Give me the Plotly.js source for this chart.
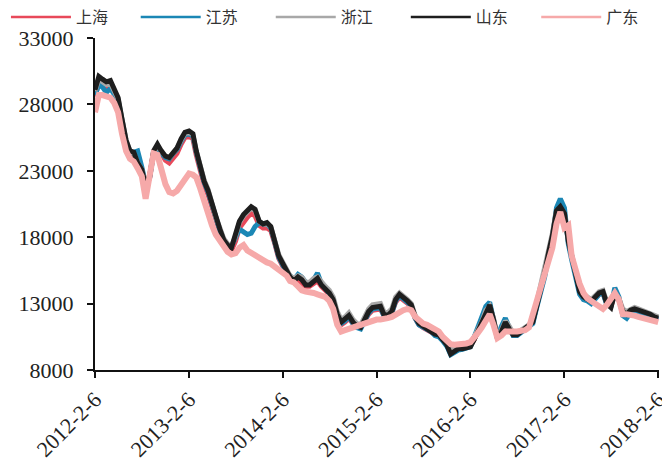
<!DOCTYPE html>
<html>
<head>
<meta charset="utf-8">
<script src="https://cdn.plot.ly/plotly-3.0.1.min.js"></script>
<style>html,body{margin:0;padding:0;background:#fff;}#chart{width:662px;height:468px;}</style>
</head>
<body>
<div id="chart"></div>
<script>
// Half-monthly observation dates (6th and 21st of each month), 2012-02-06 .. 2018-02-06
const dates = [];
for (let y = 2012; y <= 2018; y++) {
  for (let m = 1; m <= 12; m++) {
    if (y === 2012 && m < 2) continue;
    const mm = String(m).padStart(2, '0');
    dates.push(y + '-' + mm + '-06');
    if (y === 2018 && m === 2) break;
    dates.push(y + '-' + mm + '-21');
  }
  if (y === 2018) break;
}

const seriesNames = ['上海', '江苏', '浙江', '山东', '广东'];

const shanghai = [
28600,29600,29500,29300,29400,28900,28200,26600,25000,24200,
24100,23400,22900,21600,22500,24400,24800,24300,23800,23600,
24000,24300,25000,25500,25600,25400,24200,23100,21900,21200,
20200,19200,18400,17600,17200,17000,17700,18700,19200,19500,
19800,19600,18900,18700,18700,18500,17500,16400,15800,15200,
14900,14600,14800,14600,14300,14300,14500,14700,14300,14000,
13700,13200,12100,11400,11600,11900,11500,11200,11200,11700,
12200,12500,12600,12600,12100,12000,12300,13100,13500,13300,
13000,12800,11900,11400,11200,11000,10900,10700,10600,10300,
9900,9300,9500,9700,9700,9800,9850,10300,10900,11400,
12300,12700,11700,10400,10800,11400,11000,10700,10700,10900,
11100,11300,11700,12800,14000,15200,16700,17900,19800,20200,
19600,17600,16500,15300,13900,13500,13300,13200,13400,13700,
13800,13000,12800,13700,13300,12300,12100,12400,12500,12400,
12300,12200,12100,11900,11800];

const jiangsu = [
28700,29500,29300,28900,29200,28800,28300,26800,25200,24300,
24400,24500,23300,22000,22500,24300,24800,24300,24000,23900,
24300,24600,25200,25700,25800,25600,24400,23300,22100,21400,
20400,19300,18500,17800,17400,17300,18000,18600,18400,18200,
18300,18800,19100,19000,19000,18700,17600,16500,15900,15300,
15100,14800,15200,15000,14600,14500,14800,15300,14500,14100,
13800,13400,12100,11500,11700,12000,11500,11200,11100,11700,
12300,12600,12700,12700,12100,12000,12300,13200,13600,13400,
13100,12800,11900,11400,11200,11000,10900,10600,10500,10200,
9800,9150,9350,9500,9550,9650,9750,10500,11200,11900,
12800,13100,11900,10500,11300,11900,11200,10600,10600,10800,
11000,11200,11500,12700,13800,15000,16600,18000,20200,20900,
20200,17500,16300,15100,13700,13300,13200,13000,13400,13700,
13800,12900,12800,14200,13500,12100,11900,12300,12400,12400,
12300,12200,12100,11900,11800];

const zhejiang = [
29000,29900,29700,29500,29600,29000,28400,26900,25300,24500,
24300,23600,23100,22000,22700,24400,24900,24500,24100,24000,
24400,24700,25300,25800,25900,25700,24500,23400,22300,21600,
20500,19500,18700,17900,17500,17300,18100,19100,19600,19900,
20200,20000,19200,19000,19000,18800,17800,16700,16100,15500,
15100,14900,15100,15000,14600,14600,14900,15000,14600,14300,
14000,13500,12400,11800,12000,12300,11800,11500,11400,12000,
12600,12900,13000,13000,12400,12300,12600,13500,13800,13600,
13300,13000,12100,11600,11400,11200,11100,10800,10800,10500,
10100,9400,9600,9800,9800,9900,9950,10500,11000,11600,
12500,12800,11900,10500,11000,11700,11300,10800,10800,11000,
11200,11400,11800,13000,14300,15600,17000,18300,20000,20200,
19700,17800,16800,15600,14100,13700,13500,13300,13600,13900,
14000,13100,12900,13700,13400,12600,12400,12600,12700,12600,
12500,12400,12300,12100,12000];

const shandong = [
29100,30100,29900,29700,29800,29200,28500,26900,25300,24500,
24400,23600,23100,21900,22600,24500,25000,24500,24100,24000,
24400,24700,25400,25900,26000,25800,24500,23400,22200,21500,
20500,19400,18600,17800,17400,17200,18100,19200,19700,20000,
20300,20100,19200,19000,19100,18800,17700,16600,16000,15400,
15000,14700,15000,14800,14400,14400,14700,14900,14400,14100,
13800,13300,12200,11600,11800,12100,11600,11300,11200,11800,
12400,12700,12800,12800,12200,12100,12400,13300,13700,13500,
13200,12900,12000,11500,11300,11100,11000,10700,10650,10300,
9900,9200,9400,9600,9600,9700,9750,10300,10900,11500,
12400,12900,11800,10400,10900,11600,11100,10650,10650,10900,
11100,11300,11600,12800,14000,15300,16800,18100,20000,20300,
19800,17700,16600,15400,13900,13500,13300,13150,13500,13800,
13900,13000,12700,13800,13300,12400,12200,12500,12600,12500,
12400,12300,12200,12000,11900];

const guangdong = [
27400,28700,28700,28600,28500,28100,27400,25800,24500,23900,
23700,23200,22600,20900,22600,24300,24200,23000,22000,21400,
21300,21500,22000,22400,22800,22700,22500,21700,20600,19600,
18900,18200,17700,17200,16900,16700,16800,17200,17400,17000,
16800,16700,16500,16200,16100,16000,15800,15600,15400,15100,
14700,14600,14300,14000,13900,13900,13800,13700,13600,13500,
13200,12600,11400,10900,11000,11100,11200,11300,11400,11500,
11600,11700,11800,11800,11800,11900,12000,12200,12400,12500,
12600,12500,12000,11700,11500,11400,11200,11100,10900,10500,
10200,9950,9900,9900,9950,10000,10100,10400,10800,11200,
11800,12200,11400,10400,10600,10900,10900,10850,10900,10950,
11000,11200,12200,13000,13900,15100,16300,17200,19000,19900,
18700,18900,16600,15400,14500,13800,13400,13200,13000,12800,
12600,12900,13300,13800,13300,12200,12200,12200,12100,12000,
11900,11900,11800,11700,11600];

const xTickVals = ['2012-02-06','2013-02-06','2014-02-06','2015-02-06','2016-02-06','2017-02-06','2018-02-06'];
const xTickText = ['2012-2-6','2013-2-6','2014-2-6','2015-2-6','2016-2-6','2017-2-6','2018-2-6'];
const yTickVals = [8000, 13000, 18000, 23000, 28000, 33000];
const yTickText = ['8000','13000','18000','23000','28000','33000'];

const seriesValues = [shanghai, jiangsu, zhejiang, shandong, guangdong];
const colors = ['#e8495a', '#1b87b5', '#a8a8a8', '#1e1e1e', '#f6a9a9'];
const widths = [5, 5, 5, 5, 6];
const legendIds = ['legend', 'legend2', 'legend3', 'legend4', 'legend5'];
const legendX = [0.009, 0.205, 0.409, 0.613, 0.81];

const traces = [];
seriesValues.forEach((vals, i) => {
  traces.push({
    type: 'scatter', mode: 'lines', x: dates, y: vals, name: seriesNames[i],
    line: {color: colors[i], width: widths[i], shape: 'linear'},
    showlegend: false, hoverinfo: 'skip', cliponaxis: false
  });
});
seriesNames.forEach((n, i) => {
  traces.push({
    type: 'scatter', mode: 'lines', x: [null], y: [null], name: n,
    line: {color: colors[i], width: 2.5}, showlegend: true, hoverinfo: 'skip',
    legend: legendIds[i]
  });
});

const layout = {
  width: 662, height: 468,
  margin: {l: 95, r: 3, t: 38, b: 98, pad: 0, autoexpand: false},
  paper_bgcolor: '#ffffff', plot_bgcolor: '#ffffff',
  font: {family: '"Liberation Serif", "Times New Roman", serif', size: 22, color: '#222'},
  showlegend: true,
  xaxis: {
    type: 'date', range: ['2012-02-06', '2018-02-09'],
    tickmode: 'array', tickvals: xTickVals, ticktext: xTickText,
    tickangle: -45, ticks: 'outside', ticklen: 6, tickwidth: 2, tickcolor: '#111',
    ticklabeloverflow: 'allow',
    showline: true, linecolor: '#111', linewidth: 2,
    showgrid: false, zeroline: false, fixedrange: true
  },
  yaxis: {
    range: [8000, 33000], tickmode: 'array', tickvals: yTickVals, ticktext: yTickText,
    ticks: 'outside', ticklen: 6, tickwidth: 2, tickcolor: '#111', ticklabelstandoff: 9,
    showline: true, linecolor: '#111', linewidth: 2,
    showgrid: false, zeroline: false, fixedrange: true
  }
};
legendIds.forEach((id, i) => {
  layout[id] = {
    orientation: 'h', xref: 'container', yref: 'container',
    x: legendX[i], y: 1, xanchor: 'left', yanchor: 'top',
    itemwidth: 60,
    font: {family: '"Noto Sans CJK SC", sans-serif', size: 16, color: '#333'},
    bgcolor: 'rgba(0,0,0,0)', borderwidth: 0
  };
});

Plotly.newPlot('chart', traces, layout, {displayModeBar: false, staticPlot: true});
</script>
</body>
</html>
